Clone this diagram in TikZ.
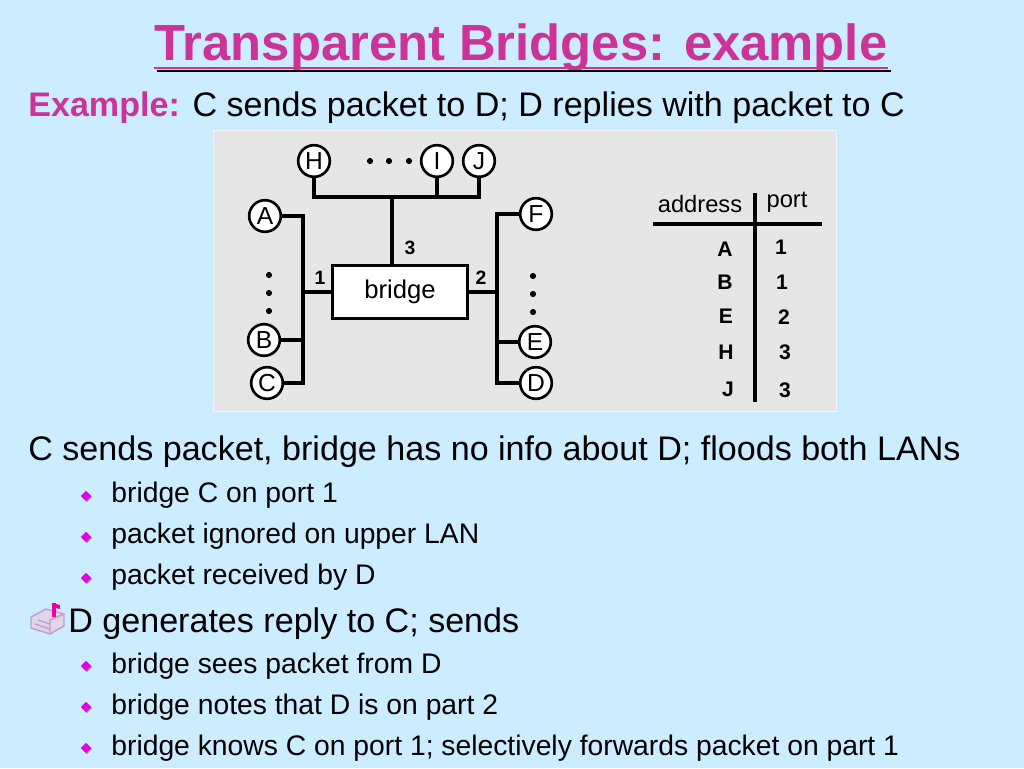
\documentclass[tikz,border=0pt]{standalone}
\usepackage{fontspec}
\setmainfont{Liberation Sans}
\usetikzlibrary{shapes.geometric,shadows,calc}

\definecolor{slideblue}{RGB}{204,236,255}
\definecolor{slidepink}{RGB}{204,51,153}
\definecolor{bulletpink}{RGB}{230,0,230}
\definecolor{boxgray}{RGB}{230,230,230}
\definecolor{shade}{RGB}{140,150,160}
\definecolor{iconlilac}{RGB}{190,160,205}

\tikzset{
  host/.style={circle, draw, line width=1.5pt, fill=white, minimum size=18pt, inner sep=0pt, font=\fontsize{14}{14}\selectfont},
  lan/.style={line width=1.8pt},
  dot/.style={circle, fill, inner sep=0pt, minimum size=3.5pt},
  portlbl/.style={font=\fontsize{11}{11}\selectfont\bfseries},
  entry/.style={font=\fontsize{12}{12}\selectfont\bfseries},
  head/.style={font=\fontsize{13.5}{14}\selectfont},
  body/.style={anchor=base west, inner sep=0pt, font=\fontsize{19.4}{22}\selectfont},
  sub/.style={anchor=base west, inner sep=0pt, font=\fontsize{16.1}{18}\selectfont},
  bullet/.style={diamond, fill=bulletpink, inner sep=0pt, minimum size=6pt,
    drop shadow={shadow xshift=0.6pt, shadow yshift=-0.6pt, fill=shade, opacity=1}},
}

\begin{document}
\begin{tikzpicture}[x=0.02cm, y=-0.02cm]
    \useasboundingbox (0,0) rectangle (1024,768);
    \fill[slideblue] (0,0) rectangle (1024,768);

    % heading
    \node[anchor=base, inner sep=0pt, text=slidepink, font=\fontsize{28.9}{34}\selectfont\bfseries] (title) at (521,60) {Transparent Bridges: example};
    \draw[line width=1.7pt, shade] ($(title.base west)+(3,11)$) -- ($(title.base east)+(3,11)$);
    \draw[line width=1.7pt, slidepink] ($(title.base west)+(0,8)$) -- ($(title.base east)+(0,8)$);
    \node[body] (ex) at (28,116) {\textcolor{slidepink}{\bfseries Example:} C sends packet to D; D replies with packet to C};

    % picture panel
    \fill[boxgray, draw=white!60!boxgray] (213,130) rectangle (836,411);

    % hosts
    \node[host] (H) at (314,161) {H};
    \node[host] (I) at (437,161) {I};
    \node[host] (J) at (479,161) {J};
    \node[host] (A) at (265,216) {A};
    \node[host] (B) at (264,340) {B};
    \node[host] (C) at (267,383) {C};
    \node[host] (F) at (536,214) {F};
    \node[host] (E) at (535,342) {E};
    \node[host] (D) at (536,383) {D};
    \node[draw, line width=1.8pt, fill=white, minimum width=77pt, minimum height=30pt, inner sep=0pt,
          font=\fontsize{14.6}{15}\selectfont] (bridge) at (400,292) {bridge};

    \foreach \x [count=\i] in {370,389,409} \node[dot] (du\i) at (\x,161) {};
    \foreach \y [count=\i] in {275,293,311} \node[dot] (dl\i) at (269,\y) {};
    \foreach \y [count=\i] in {276,294,312} \node[dot] (dr\i) at (533,\y) {};

    % LANs
    \coordinate (up) at (392,197);
    \coordinate (lanL) at (303,292);
    \coordinate (lanR) at (497,292);
    \draw[lan] (H) |- (J |- up) -- (J);
    \draw[lan] (I) -- (I |- up);
    \draw[lan] (up) -- (up |- bridge.north);
    \draw[lan] (A) -| (C -| lanL) -- (C);
    \draw[lan] (B) -- (B -| lanL);
    \draw[lan] (bridge) -- (lanL);
    \draw[lan] (F) -| (D -| lanR) -- (D);
    \draw[lan] (E) -- (E -| lanR);
    \draw[lan] (bridge) -- (lanR);
    \node[portlbl] (p3) at (410,248) {3};
    \node[portlbl] (p1) at (320,278) {1};
    \node[portlbl] (p2) at (481,278) {2};

    % bridge table
    \node[head] (addr) at (700,204) {address};
    \node[head] (port) at (787,202) {port};
    \coordinate (tl) at (653,224);
    \coordinate (tr) at (822,224);
    \coordinate (tt) at (755,193);
    \coordinate (tb) at (755,402);
    \draw[lan] (tl) -- (tr);
    \draw[lan] (tt) -- (tb);
    \node[entry] (aA) at (725,249) {A};
    \node[entry] (pA) at (781,247) {1};
    \node[entry] (aB) at (725,282) {B};
    \node[entry] (pB) at (782,282) {1};
    \node[entry] (aE) at (726,316) {E};
    \node[entry] (pE) at (784,317) {2};
    \node[entry] (aH) at (726,352) {H};
    \node[entry] (pH) at (785,352) {3};
    \node[entry] (aJ) at (728,389) {J};
    \node[entry] (pJ) at (785,390) {3};

    % text
    \node[body] (flood) at (28,460) {C sends packet, bridge has no info about D; floods both LANs};
    \node[bullet] (b1) at (86,496) {};
    \node[sub] (s1) at (111,502) {bridge C on port 1};
    \node[bullet] (b2) at (86,537) {};
    \node[sub] (s2) at (111,543) {packet ignored on upper LAN};
    \node[bullet] (b3) at (86,578) {};
    \node[sub] (s3) at (111,584) {packet received by D};

    % mailbox icon
    \fill[iconlilac!45] (31,628) -- (50,634) -- (64,626) -- (64,614) -- (46,609) -- (31,617) -- cycle;
    \draw[iconlilac, line width=0.8pt] (31,628) -- (50,634) -- (64,626) -- (64,614) -- (46,609) -- (31,617) -- cycle;
    \draw[iconlilac, line width=0.8pt] (35,624) -- (50,629) (38,620) -- (50,624) (50,634) -- (50,620) -- (64,614);
    \fill[bulletpink!70!red] (52,603) rectangle (56,617);
    \fill[bulletpink!70!red] (52,603) -- (60,605) -- (60,609) -- (56,608) -- cycle;

    \node[body] (reply) at (68,632) {D generates reply to C; sends};
    \node[bullet] (b4) at (86,666) {};
    \node[sub] (s4) at (111,673) {bridge sees packet from D};
    \node[bullet] (b5) at (86,707) {};
    \node[sub] (s5) at (111,714) {bridge notes that D is on part 2};
    \node[bullet] (b6) at (86,748) {};
    \node[sub] (s6) at (111,755) {bridge knows C on port 1; selectively forwards packet on part 1};
\end{tikzpicture}
\end{document}
